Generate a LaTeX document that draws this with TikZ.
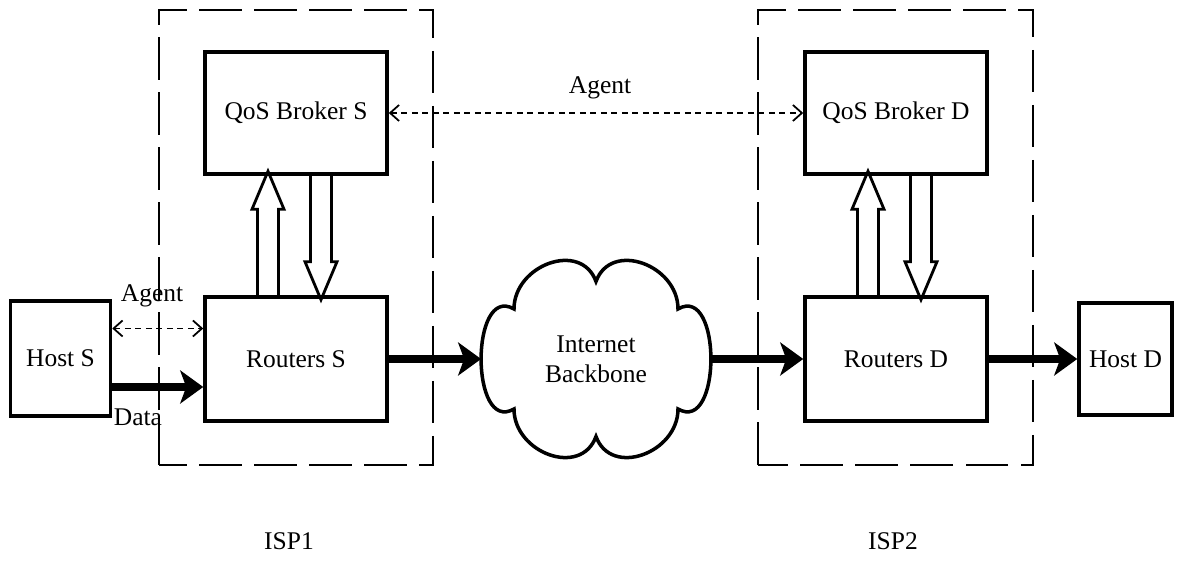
\documentclass[tikz,border=0pt]{standalone}
\usepackage{fontspec}
\setmainfont{Liberation Serif}
\usepackage{tikz}
\usetikzlibrary{shapes,arrows,arrows.meta,positioning,calc}

\begin{document}
\begin{tikzpicture}[
    font=\fontsize{14.5}{17}\selectfont,
    block/.style={rectangle, draw, line width=2pt, minimum width=3.64cm, minimum height=2.44cm},
    host/.style={rectangle, draw, line width=2pt, minimum width=2cm, minimum height=2.3cm},
    ispbox/.style={draw, line width=0.6pt, dash pattern=on 0.85cm off 0.25cm},
    dataline/.style={line width=4pt, -{Stealth[length=0.46cm, width=0.66cm, inset=0.12cm]}},
    agentline/.style={line width=1pt, dash pattern=on 0.12cm off 0.09cm, {Straight Barb[length=0.18cm, width=0.32cm]}-{Straight Barb[length=0.18cm, width=0.32cm]}},
    fat/.style={draw, line width=1.6pt, line join=miter},
    cloudline/.style={draw, line width=2pt, looseness=1.3}
]
    \useasboundingbox (0,0) rectangle (23.66,11.24);

    % ISP domains
    \draw[ispbox] (3.18,1.94) rectangle (8.66,11.04);
    \draw[ispbox] (15.16,1.94) rectangle (20.66,11.04);
    \node (isp1) at (5.78,0.42) {ISP1};
    \node (isp2) at (17.86,0.42) {ISP2};

    % Boxes
    \node[block] (qbs) at (5.92,8.98) {QoS Broker S};
    \node[block] (qbd) at (17.92,8.98) {QoS Broker D};
    \node[block, minimum height=2.48cm] (rs) at (5.92,4.06) {Routers S};
    \node[block, minimum height=2.48cm] (rd) at (17.92,4.06) {Routers D};
    \node[host] (hs) at (1.21,4.07) {Host S};
    \node[host, minimum width=1.86cm, minimum height=2.24cm] (hd) at (22.51,4.06) {Host D};
    \node[minimum width=4.58cm, minimum height=3.8cm, align=center] (net) at (11.92,4.06) {Internet\\Backbone};

    % Cloud
    \draw[cloudline] ($(net)+(0,1.55)$) to[out=70,in=90] ($(net)+(1.64,1.0)$)
        to[out=30,in=-30] ($(net)+(1.64,-1.0)$)
        to[out=-90,in=-70] ($(net)+(0,-1.55)$)
        to[out=-110,in=-90] ($(net)+(-1.64,-1.0)$)
        to[out=210,in=150] ($(net)+(-1.64,1.0)$)
        to[out=90,in=110] cycle;

    % Data path
    \draw[dataline] ([yshift=-0.57cm]hs.east) -- ([yshift=-0.57cm]hs.east -| rs.west);
    \draw[dataline] (rs.east) -- (net.west);
    \draw[dataline] (net.east) -- (rd.west);
    \draw[dataline] (rd.east) -- (hd.west);

    % Agents
    \draw[agentline] ([yshift=0.6cm]hs.east) -- ([yshift=0.6cm]hs.east -| rs.west);
    \draw[agentline] (qbs.east) -- (qbd.west);
    \node (agl) at (3.04,5.32) {Agent};
    \node (dtl) at (2.76,2.9) {Data};
    \node (agt) at (12.0,9.48) {Agent};

    % Broker <-> routers
    \foreach \r/\b in {rs/qbs, rd/qbd} {
        \draw[fat] ($(\r.north)+(-0.77,0)$) -- ++(0,1.72) -- ++(-0.11,0) -- ++(0.32,0.76)
            -- ++(0.32,-0.76) -- ++(-0.11,0) -- ++(0,-1.72);
        \draw[fat] ($(\b.south)+(0.29,0)$) -- ++(0,-1.72) -- ++(-0.11,0) -- ++(0.32,-0.76)
            -- ++(0.32,0.76) -- ++(-0.11,0) -- ++(0,1.72);
    }
\end{tikzpicture}
\end{document}
